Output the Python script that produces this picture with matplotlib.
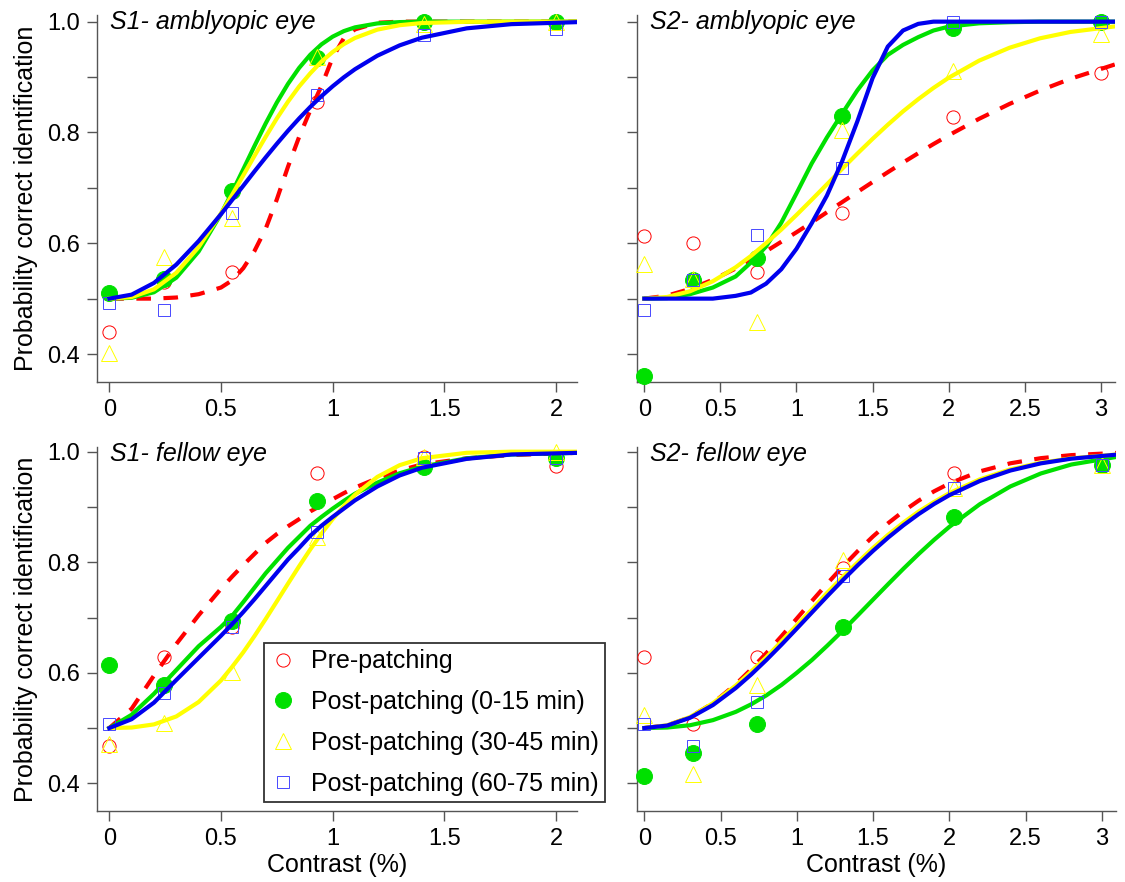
import matplotlib
matplotlib.use("Agg")
import matplotlib.pyplot as plt

plt.rcParams['font.family'] = ['Liberation Sans', 'DejaVu Sans']

# Contrast levels tested (same for both eyes of a subject)
x_pts_s1 = [0, 0.245, 0.55, 0.93, 1.41, 2.0]
x_pts_s2 = [0, 0.32, 0.74, 1.3, 2.03, 3.0]

x_fit_s1 = [0, 0.1, 0.2, 0.3, 0.4, 0.5, 0.55, 0.6, 0.65, 0.7, 0.75, 0.8,
            0.85, 0.9, 0.95, 1.0, 1.05, 1.1, 1.2, 1.3, 1.4, 1.6, 1.8, 2.1]
x_fit_s2 = [0, 0.15, 0.3, 0.45, 0.6, 0.7, 0.8, 0.9, 1.0, 1.1, 1.2, 1.3, 1.4,
            1.5, 1.6, 1.7, 1.8, 1.9, 2.0, 2.2, 2.4, 2.6, 2.8, 3.1]

# S1 - amblyopic eye
s1a_pre = [0.44, 0.53, 0.548, 0.855, 1.0, 1.0]
s1a_p0 = [0.511, 0.536, 0.695, 0.934, 1.0, 1.0]
s1a_p30 = [0.402, 0.575, 0.645, 0.936, 0.995, 1.0]
s1a_p60 = [0.493, 0.48, 0.654, 0.868, 0.976, 0.987]
s1a_pre_fit = [0.5, 0.5, 0.5, 0.502, 0.508, 0.52, 0.533, 0.555, 0.586, 0.626, 0.679, 0.738,
               0.792, 0.84, 0.884, 0.935, 0.97, 0.986, 0.998, 1.0, 1.0, 1.0, 1.0, 1.0]
s1a_p0_fit = [0.5, 0.5015, 0.5115, 0.5378, 0.5851, 0.6527, 0.6921, 0.7336, 0.7755, 0.8161, 0.8539, 0.8876,
              0.9165, 0.9403, 0.959, 0.9729, 0.9829, 0.9897, 0.9968, 0.9992, 1.0, 1.0, 1.0, 1.0]
s1a_p30_fit = [0.5, 0.5028, 0.5168, 0.5466, 0.5931, 0.6537, 0.6875, 0.7225, 0.7577, 0.792, 0.8252, 0.8555,
               0.883, 0.9068, 0.9279, 0.9452, 0.9594, 0.9705, 0.9856, 0.9936, 0.9975, 0.9997, 1.0, 1.0]
s1a_p60_fit = [0.5, 0.5072, 0.5283, 0.5614, 0.6039, 0.6524, 0.6781, 0.7038, 0.7297, 0.7549, 0.7794, 0.803,
               0.8253, 0.8461, 0.8655, 0.8833, 0.8995, 0.9141, 0.9385, 0.9572, 0.9711, 0.9879, 0.9955, 0.9992]

# S2 - amblyopic eye
s2a_pre = [0.613, 0.600, 0.548, 0.654, 0.828, 0.908]
s2a_p0 = [0.36, 0.533, 0.574, 0.830, 0.988, 1.0]
s2a_p30 = [0.563, 0.535, 0.458, 0.804, 0.911, 0.977]
s2a_p60 = [0.48, 0.533, 0.615, 0.735, 1.0, 1.0]
s2a_pre_fit = [0.5, 0.5054, 0.5174, 0.534, 0.5543, 0.5696, 0.5854, 0.6026, 0.6198, 0.6376, 0.6559, 0.6742,
               0.6924, 0.7104, 0.7282, 0.7456, 0.7625, 0.779, 0.7948, 0.8246, 0.8515, 0.8756, 0.8968, 0.9234]
s2a_p0_fit = [0.5, 0.501, 0.508, 0.52, 0.54, 0.565, 0.594, 0.637, 0.69, 0.744, 0.791, 0.834,
              0.876, 0.912, 0.94, 0.958, 0.972, 0.984, 0.991, 0.997, 0.999, 1.0, 1.0, 1.0]
s2a_p30_fit = [0.5, 0.503, 0.5133, 0.5313, 0.5565, 0.5769, 0.6002, 0.6246, 0.651, 0.6785, 0.7064, 0.7343,
               0.7618, 0.7884, 0.8139, 0.838, 0.86, 0.8803, 0.8987, 0.9296, 0.9529, 0.9699, 0.9814, 0.9917]
s2a_p60_fit = [0.5, 0.5, 0.5, 0.5, 0.505, 0.511, 0.527, 0.553, 0.59, 0.636, 0.686, 0.748,
               0.82, 0.898, 0.955, 0.984, 0.996, 1.0, 1.0, 1.0, 1.0, 1.0, 1.0, 1.0]

# S1 - fellow eye
s1f_pre = [0.467, 0.628, 0.682, 0.962, 0.99, 0.974]
s1f_p0 = [0.614, 0.578, 0.694, 0.91, 0.973, 0.988]
s1f_p30 = [0.471, 0.51, 0.602, 0.846, 0.991, 1.0]
s1f_p60 = [0.507, 0.563, 0.682, 0.855, 0.988, 0.988]
s1f_pre_fit = [0.5, 0.535, 0.595, 0.652, 0.704, 0.752, 0.774, 0.795, 0.815, 0.835, 0.851, 0.865,
               0.878, 0.892, 0.903, 0.914, 0.925, 0.935, 0.952, 0.966, 0.977, 0.988, 0.994, 0.998]
s1f_p0_fit = [0.5, 0.524, 0.562, 0.605, 0.648, 0.683, 0.703, 0.728, 0.754, 0.78, 0.803, 0.826,
              0.846, 0.866, 0.882, 0.897, 0.911, 0.924, 0.944, 0.961, 0.973, 0.988, 0.995, 0.998]
s1f_p30_fit = [0.5, 0.5009, 0.5066, 0.521, 0.5471, 0.5861, 0.6107, 0.6372, 0.6664, 0.6972, 0.7291, 0.7612,
               0.7928, 0.8233, 0.8518, 0.8781, 0.9016, 0.9222, 0.9544, 0.9756, 0.9882, 0.998, 1.0, 1.0]
s1f_p60_fit = [0.5, 0.516, 0.546, 0.587, 0.627, 0.667, 0.688, 0.71, 0.733, 0.757, 0.781, 0.805,
               0.826, 0.848, 0.866, 0.882, 0.897, 0.912, 0.937, 0.957, 0.971, 0.987, 0.995, 0.998]

# S2 - fellow eye
s2f_pre = [0.628, 0.508, 0.628, 0.789, 0.961, 0.975]
s2f_p0 = [0.413, 0.454, 0.508, 0.682, 0.881, 0.976]
s2f_p30 = [0.523, 0.417, 0.578, 0.804, 0.935, 0.976]
s2f_p60 = [0.507, 0.467, 0.548, 0.775, 0.935, 0.976]
s2f_pre_fit = [0.5, 0.5047, 0.5197, 0.545, 0.5793, 0.6062, 0.6355, 0.6663, 0.6982, 0.7301, 0.7615, 0.7917,
               0.8203, 0.8468, 0.8709, 0.8925, 0.9117, 0.9283, 0.9425, 0.9644, 0.979, 0.9883, 0.9938, 0.9978]
s2f_p0_fit = [0.5, 0.5009, 0.5051, 0.5143, 0.5293, 0.5428, 0.5591, 0.5781, 0.6, 0.6233, 0.6491, 0.676,
              0.704, 0.7324, 0.7607, 0.7885, 0.8152, 0.8405, 0.864, 0.905, 0.9371, 0.9606, 0.9768, 0.9907]
s2f_p30_fit = [0.5, 0.505, 0.52, 0.545, 0.577, 0.602, 0.628, 0.657, 0.686, 0.715, 0.745, 0.773,
               0.80, 0.826, 0.85, 0.872, 0.892, 0.909, 0.925, 0.95, 0.968, 0.98, 0.988, 0.995]
s2f_p60_fit = [0.5, 0.5045, 0.5186, 0.5416, 0.5725, 0.5967, 0.6231, 0.651, 0.68, 0.7094, 0.7387, 0.7672,
               0.7947, 0.8206, 0.8449, 0.8671, 0.8873, 0.9054, 0.9213, 0.947, 0.9659, 0.9789, 0.9874, 0.9947]

labels = ['Pre-patching', 'Post-patching (0-15 min)',
          'Post-patching (30-45 min)', 'Post-patching (60-75 min)']
colors = ['#ff0000', '#00e000', '#ffff00', '#0000ee']

fig = plt.figure(figsize=(11.25, 8.82), dpi=100)

# axes placed in figure pixels (left, bottom, width, height)
W, H = 1125.0, 882.0
ax1 = fig.add_axes([97 / W, 1 - 382 / H, 480 / W, 367 / H])
ax2 = fig.add_axes([637 / W, 1 - 382 / H, 478 / W, 367 / H])
ax3 = fig.add_axes([97 / W, 1 - 811 / H, 480 / W, 364 / H])
ax4 = fig.add_axes([637 / W, 1 - 811 / H, 479 / W, 364 / H])

panels = [
    (ax1, 'S1- amblyopic eye', x_pts_s1, x_fit_s1,
     [s1a_pre, s1a_p0, s1a_p30, s1a_p60],
     [s1a_pre_fit, s1a_p0_fit, s1a_p30_fit, s1a_p60_fit]),
    (ax2, 'S2- amblyopic eye', x_pts_s2, x_fit_s2,
     [s2a_pre, s2a_p0, s2a_p30, s2a_p60],
     [s2a_pre_fit, s2a_p0_fit, s2a_p30_fit, s2a_p60_fit]),
    (ax3, 'S1- fellow eye', x_pts_s1, x_fit_s1,
     [s1f_pre, s1f_p0, s1f_p30, s1f_p60],
     [s1f_pre_fit, s1f_p0_fit, s1f_p30_fit, s1f_p60_fit]),
    (ax4, 'S2- fellow eye', x_pts_s2, x_fit_s2,
     [s2f_pre, s2f_p0, s2f_p30, s2f_p60],
     [s2f_pre_fit, s2f_p0_fit, s2f_p30_fit, s2f_p60_fit]),
]

# marker style for each condition
marker_kw = [
    dict(marker='o', ms=9.5, mfc='none', mec=colors[0], mew=0.7),
    dict(marker='o', ms=11.5, mfc=colors[1], mec=colors[1], mew=0.7),
    dict(marker='^', ms=11, mfc='none', mec=colors[2], mew=0.7),
    dict(marker='s', ms=8, mfc='none', mec='#4848ff', mew=0.7),
]

handles = []
for ax, title, xp, xf, pts, fits in panels:
    for i in range(4):
        h, = ax.plot(xp, pts[i], ls='none', clip_on=False, zorder=3 + 2 * i,
                     label=labels[i], **marker_kw[i])
        if ax is ax3:
            handles.append(h)
        if i == 0:
            ax.plot(xf, fits[i], color=colors[i], lw=3, ls=(0, (3.5, 3)),
                    zorder=4 + 2 * i, solid_capstyle='butt')
        else:
            ax.plot(xf, fits[i], color=colors[i], lw=3, zorder=4 + 2 * i)
    ax.text(0.028, 1.014, title, transform=ax.transAxes, fontsize=18,
            style='italic', va='top', ha='left')

# axis ranges and ticks
for ax in [ax1, ax3]:
    ax.set_xlim(-0.055, 2.094)
    ax.set_xticks([0, 0.5, 1, 1.5, 2])
    ax.set_xticklabels(['0', '0.5', '1', '1.5', '2'])
for ax in [ax2, ax4]:
    ax.set_xlim(-0.048, 3.093)
    ax.set_xticks([0, 0.5, 1, 1.5, 2, 2.5, 3])
    ax.set_xticklabels(['0', '0.5', '1', '1.5', '2', '2.5', '3'])

ax1.set_ylim(0.3495, 1.012)
ax2.set_ylim(0.3495, 1.012)
ax3.set_ylim(0.3499, 1.0085)
ax4.set_ylim(0.3499, 1.0085)

yt = [0.4, 0.5, 0.6, 0.7, 0.8, 0.9, 1.0]
for ax in [ax1, ax2, ax3, ax4]:
    ax.set_yticks(yt)
    if ax in (ax1, ax3):
        ax.set_yticklabels(['0.4', '', '0.6', '', '0.8', '', '1.0'])
    else:
        ax.set_yticklabels([])
    ax.spines['top'].set_visible(False)
    ax.spines['right'].set_visible(False)
    for s in ['left', 'bottom']:
        ax.spines[s].set_color('#555555')
        ax.spines[s].set_linewidth(1.0)
    ax.tick_params(direction='out', length=7, width=1, color='#555555',
                   labelsize=17, pad=5)

for ax in [ax1, ax3]:
    ax.set_ylabel('Probability correct identification', fontsize=18)
    ax.yaxis.set_label_coords(-0.122, 0.5)
for ax in [ax3, ax4]:
    ax.set_xlabel('Contrast (%)', fontsize=18)
    ax.xaxis.set_label_coords(0.5, -0.115)

leg = fig.legend(handles=handles, loc='upper left',
                 bbox_to_anchor=(264 / W, 1 - 643 / H), fontsize=18,
                 frameon=True, fancybox=False, borderpad=0.25, borderaxespad=0,
                 handlelength=1.02, handletextpad=0.61, labelspacing=0.67)
leg.get_frame().set_edgecolor('black')
leg.get_frame().set_linewidth(1.3)
leg.set_zorder(20)

fig.savefig('out.png', dpi=100)
